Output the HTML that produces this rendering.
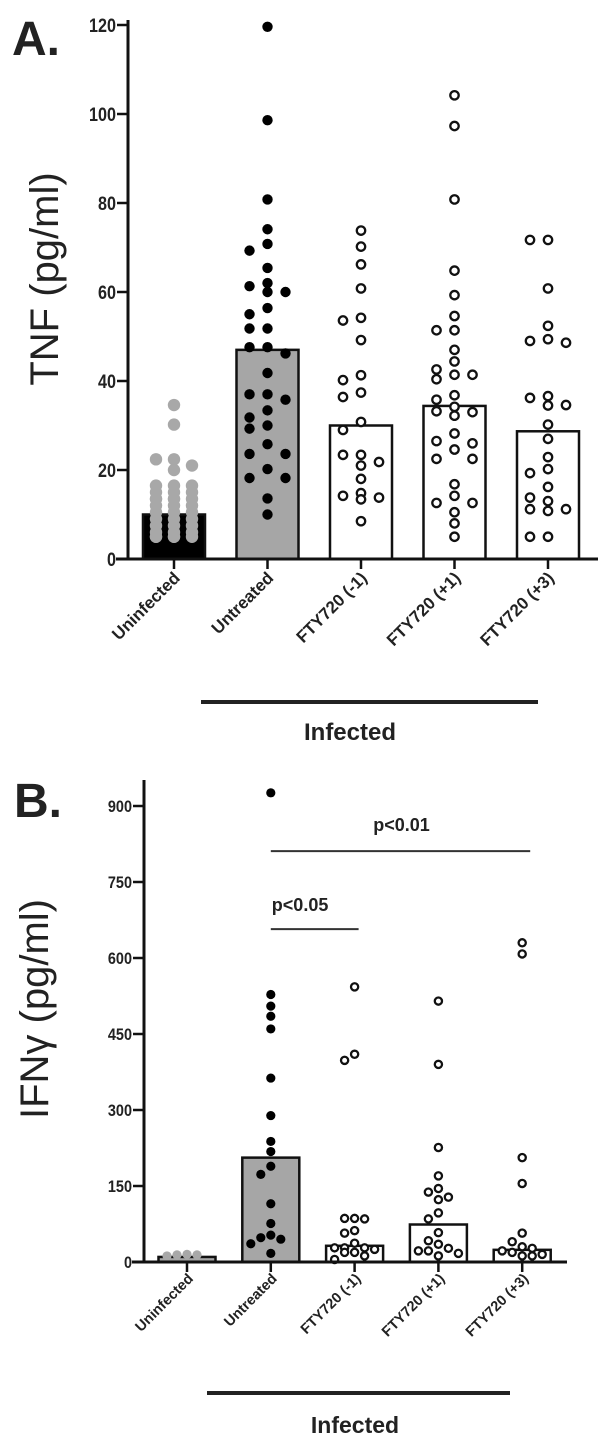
<!DOCTYPE html>
<html><head><meta charset="utf-8"><style>
html,body{margin:0;padding:0;background:#fff;}
svg{display:block;font-family:"Liberation Sans",Arial,sans-serif;}
</style></head><body>
<svg id="fig" width="612" height="1449" viewBox="0 0 612 1449" xmlns="http://www.w3.org/2000/svg"></svg>
<script>
const categories = ["Uninfected","Untreated","FTY720 (-1)","FTY720 (+1)","FTY720 (+3)"];
const tnfTicks = [0,20,40,60,80,100,120];
const tnfBars = [10,47,30,34.4,28.7];
const tnfUninf = [34.6,30.2,22.4,21,22.4,20,16.5,16.5,16.5,15,15,15,13.5,13.5,13.5,13.5,13.5,12,12,12,10.5,10.5,10.5,9,9,9,7.5,7.5,7.5,6,6,6,5,5,5,5,5];
const tnfUntr = [119.6,98.6,80.8,74.1,70.8,69.3,65.4,62,61.3,60,60,56.4,55,51.8,51.8,47.6,47.6,46.2,41.8,37,37,35.8,33.4,31.8,30,29.3,25.8,23.6,23.6,20.2,18.2,18.2,13.6,10];
const tnfM1 = [73.8,70.2,66.2,60.8,54.2,53.6,49.2,41.3,40.2,37.4,36.4,30.8,29,23.4,23.4,21.8,21,18,14.8,14.2,13.8,13.4,8.5];
const tnfP1 = [104.2,97.3,80.8,64.8,59.3,54.6,51.4,51.4,47,44.4,42.6,41.4,41.4,40.4,36.8,35.8,34.2,33.2,33,32.2,28.2,26.5,26,24.6,22.5,22.5,16.8,14.2,12.6,12.6,10.5,8,5];
const tnfP3 = [71.7,71.7,60.8,52.4,49.4,49,48.6,36.6,36.2,34.6,34.5,30.2,27,22.9,20.2,19.3,16.2,13.8,13,11.2,11.2,10.8,5,5];
const ifnTicks = [0,150,300,450,600,750,900];
const ifnBars = [10,206,32,74,24];
const ifnUninf = [15,14,14,12];
const ifnUntr = [926,528,505,485,460,363,289,238,218,189,173,115,76,53,48,45,36,17];
const ifnM1 = [543,410,398,86,86,85,62,57,37,28,28,28,25,19,19,12,5];
const ifnP1 = [515,390,226,170,145,138,128,123,97,85,58,42,35,27,22,22,17,12];
const ifnP3 = [630,608,206,155,57,40,30,27,22,19,15,12,12];

const NS="http://www.w3.org/2000/svg";
const svg=document.getElementById('fig');
function mk(tag,attrs,parent){const e=document.createElementNS(NS,tag);for(const k in attrs)e.setAttribute(k,attrs[k]);(parent||svg).appendChild(e);return e;}

function panel(cfg){
  const g=mk('g',{});
  
  
  const y=v=>cfg.y0-(v/cfg.vmax)*(cfg.y0-cfg.ytop);
  const x=i=>cfg.x0+i*cfg.step;
  cfg.bars.forEach((v,i)=>{
    const r=mk('rect',{x:x(i)-cfg.bw/2,y:y(v),width:cfg.bw,height:cfg.y0-y(v),fill:cfg.barFill[i],stroke:'#111','stroke-width':2.5},g);
    
    
  });
  cfg.series.forEach((arr,i)=>{
    const placed=[];
    const rad=(cfg.rs&&cfg.rs[i])||cfg.r;
    const sorted=arr.slice().sort((a,b)=>b-a);
    sorted.forEach(v=>{
      const py=y(v);
      let best=0,bestCost=1e9;
      for(const c of cfg.slots){
        const px=x(i)+c*cfg.sp;
        let cost=0;
        placed.forEach(p=>{const d=Math.hypot(p[0]-px,p[1]-py);if(d<rad*2.1)cost+=rad*2.1-d;});
        cost+=Math.abs(c)*0.01;
        if(cost<bestCost){bestCost=cost;best=c;}
      }
      const px=x(i)+best*cfg.sp;placed.push([px,py]);
      const st=cfg.dot[i];
      const c=mk('circle',{cx:px,cy:py,r:st==='open'?rad-1:rad,fill:st==='open'?'#fff':st,stroke:st==='open'?'#111':'none','stroke-width':2.3},g);
      
      
    });
  });
  mk('line',{x1:cfg.ax,y1:cfg.atop,x2:cfg.ax,y2:cfg.y0+1.5,stroke:'#111','stroke-width':3},g);
  mk('line',{x1:cfg.ax-12,y1:cfg.y0,x2:cfg.xend,y2:cfg.y0,stroke:'#111','stroke-width':3},g);
  cfg.ticks.forEach(t=>{
    mk('line',{x1:cfg.ax-11,y1:y(t),x2:cfg.ax,y2:y(t),stroke:'#111','stroke-width':2.5},g);
    const ex=cfg.ax-12;
    const tx=mk('text',{x:ex,y:y(t)+cfg.tfs*0.36,'text-anchor':'end','font-size':cfg.tfs,'font-weight':'bold',fill:'#222','transform':`translate(${ex},0) scale(0.85,1) translate(${-ex},0)`},g);
    tx.textContent=t;
    
    
  });
  categories.forEach((c,i)=>{
    mk('line',{x1:x(i),y1:cfg.y0,x2:x(i),y2:cfg.y0+10,stroke:'#111','stroke-width':2.5},g);
    const lx=x(i)+7, ly=cfg.y0+cfg.lfs+3;
    const t=mk('text',{x:lx,y:ly,'text-anchor':'end','font-size':cfg.lfs,'font-weight':'bold',fill:'#222',transform:`rotate(-45 ${lx} ${ly})`},g);
    t.textContent=c;
    
    
  });
  return {g,y,x};
}

const A=panel({name:'panel-a-tnf',x0:174,step:93.5,bw:62,y0:559,ytop:25,vmax:120,ax:128,atop:20,xend:598,
  bars:tnfBars,barFill:['#000','#a6a6a6','#fff','#fff','#fff'],
  series:[tnfUninf,tnfUntr,tnfM1,tnfP1,tnfP3],dot:['#a8a8a8','#000','open','open','open'],r:5.2,rs:[6.2],
  slots:[0,-1,1],sp:18,
  ticks:tnfTicks,tfs:19,lfs:17});
const B=panel({name:'panel-b-ifng',x0:187,step:83.8,bw:57,y0:1262,ytop:806,vmax:900,ax:144,atop:780,xend:567,
  bars:ifnBars,barFill:['#a6a6a6','#a6a6a6','#fff','#fff','#fff'],
  series:[ifnUninf,ifnUntr,ifnM1,ifnP1,ifnP3],dot:['#a8a8a8','#000','open','open','open'],r:4.6,
  slots:[0,-1,1,-2,2],sp:10,
  ticks:ifnTicks,tfs:17,lfs:14.5});

function txt(s,a,name){const t=mk('text',a);t.textContent=s;return t;}
txt('A.',{x:12,y:55,'font-size':48,'font-weight':'bold',fill:'#222'},'panel-a-label');
txt('B.',{x:14,y:817,'font-size':48,'font-weight':'bold',fill:'#222'},'panel-b-label');
txt('TNF  (pg/ml)',{x:58,y:279,'font-size':40,fill:'#222','text-anchor':'middle',transform:'rotate(-90 58 279)'},'y-axis-title-a');
txt('IFNγ (pg/ml)',{x:48,y:1009,'font-size':40,fill:'#222','text-anchor':'middle',transform:'rotate(-90 48 1009)'},'y-axis-title-b');
mk('line',{x1:201,y1:702,x2:538,y2:702,stroke:'#222','stroke-width':4});
txt('Infected',{x:350,y:740,'font-size':24,'font-weight':'bold',fill:'#222','text-anchor':'middle'},'infected-label-a');
mk('line',{x1:207,y1:1393,x2:510,y2:1393,stroke:'#222','stroke-width':4});
txt('Infected',{x:355,y:1433,'font-size':23,'font-weight':'bold',fill:'#222','text-anchor':'middle'},'infected-label-b');
const yb=B.y;
mk('line',{x1:B.x(1),y1:yb(811),x2:B.x(4)+8,y2:yb(811),stroke:'#333','stroke-width':2});
txt('p<0.01',{x:(B.x(1)+B.x(4))/2+5,y:yb(811)-20,'font-size':18,'font-weight':'bold',fill:'#222','text-anchor':'middle'},'sig-label-p001');
mk('line',{x1:B.x(1),y1:yb(657),x2:B.x(2)+4,y2:yb(657),stroke:'#333','stroke-width':2});
txt('p<0.05',{x:B.x(1)+1,y:yb(657)-18,'font-size':18,'font-weight':'bold',fill:'#222'},'sig-label-p005');
</script>
</body></html>
